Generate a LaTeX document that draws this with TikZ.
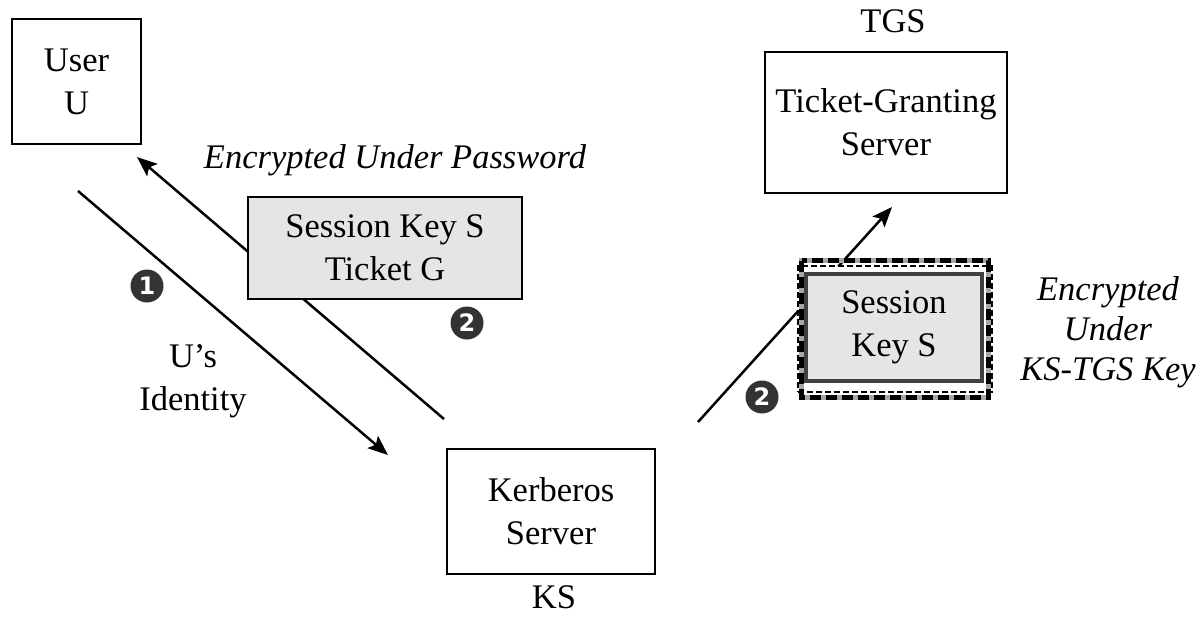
\documentclass[tikz,border=0pt]{standalone}
\usepackage{fontspec}
\setmainfont{Liberation Serif}
\newfontfamily\numfont{DejaVu Sans}
\usetikzlibrary{arrows.meta}
\tikzset{
  box/.style={draw=black, line width=2pt, rectangle, align=center, inner sep=0pt},
  pkt/.style={box, fill=black!10},
  lbl/.style={align=center, inner sep=0pt},
  enc/.style={lbl, font=\fontsize{34.5}{40}\selectfont\itshape},
  num/.style={circle, fill=black!80, text=white, minimum size=33pt, inner sep=0pt, font=\numfont\bfseries\fontsize{24}{24}\selectfont},
  msg/.style={line width=2.5pt, -{Stealth[length=20pt,width=16pt,inset=4pt]}}
}
\begin{document}
\begin{tikzpicture}[x=1pt,y=-1pt, font=\fontsize{34.5}{43}\selectfont]
\useasboundingbox (0,0) rectangle (1198,616);
% connector end points
\coordinate (a1s) at (78,191);
\coordinate (a1e) at (388,455);
\coordinate (a2s) at (444,419);
\coordinate (a2e) at (137,157);
\coordinate (a3s) at (698,422);
\coordinate (a3e) at (892,207);
% arrows (drawn beneath the message boxes)
\draw[msg] (a1s) -- (a1e);
\draw[msg] (a2s) -- (a2e);
\draw[msg] (a3s) -- (a3e);
% principals
\node[box, minimum width=129pt, minimum height=125pt] (user) at (76.5,81.5) {User\\U};
\node[box, minimum width=208pt, minimum height=125pt] (ks) at (551,511.5) {Kerberos\\Server};
\node[lbl] (kslbl) at (554,597) {KS};
\node[box, minimum width=242pt, minimum height=141pt] (tgs) at (886,122.5) {Ticket-Granting\\Server};
\node[lbl] (tgslbl) at (893,21) {TGS};
% message 2 to user
\node[pkt, minimum width=274pt, minimum height=102pt] (pkt1) at (385,248) {Session Key S\\Ticket G};
\node[enc] (encpw) at (395,160) {Encrypted Under Password};
% labels of message 1
\node[lbl] (uid) at (193,381) {U’s\\Identity};
\node[num] (n1) at (147,286) {1};
\node[num] (n2a) at (467,323) {2};
\node[num] (n2b) at (762,397) {2};
% message 2 to TGS (encrypted under KS-TGS key)
\node[draw=black, line width=1.2pt, dash pattern=on 6pt off 3pt, fill=white, minimum width=194pt, minimum height=126pt, inner sep=0pt] (outer) at (895,329) {};
\draw[black!35, line width=5pt] ([shift={(4.5,-4.5)}]outer.north west) rectangle ([shift={(-4.5,4.5)}]outer.south east);
\draw[black, line width=5pt, dash pattern=on 11pt off 5pt] ([shift={(4.5,-4.5)}]outer.north west) rectangle ([shift={(-4.5,4.5)}]outer.south east);
\node[fill=black!10, draw=black!75, line width=4pt, minimum width=176pt, minimum height=107pt, align=center, inner sep=0pt] (pkt2) at (894,327.5) {Session\\Key S};
\node[enc] (encks) at (1108,332) {Encrypted\\Under\\KS-TGS Key};
\end{tikzpicture}
\end{document}
